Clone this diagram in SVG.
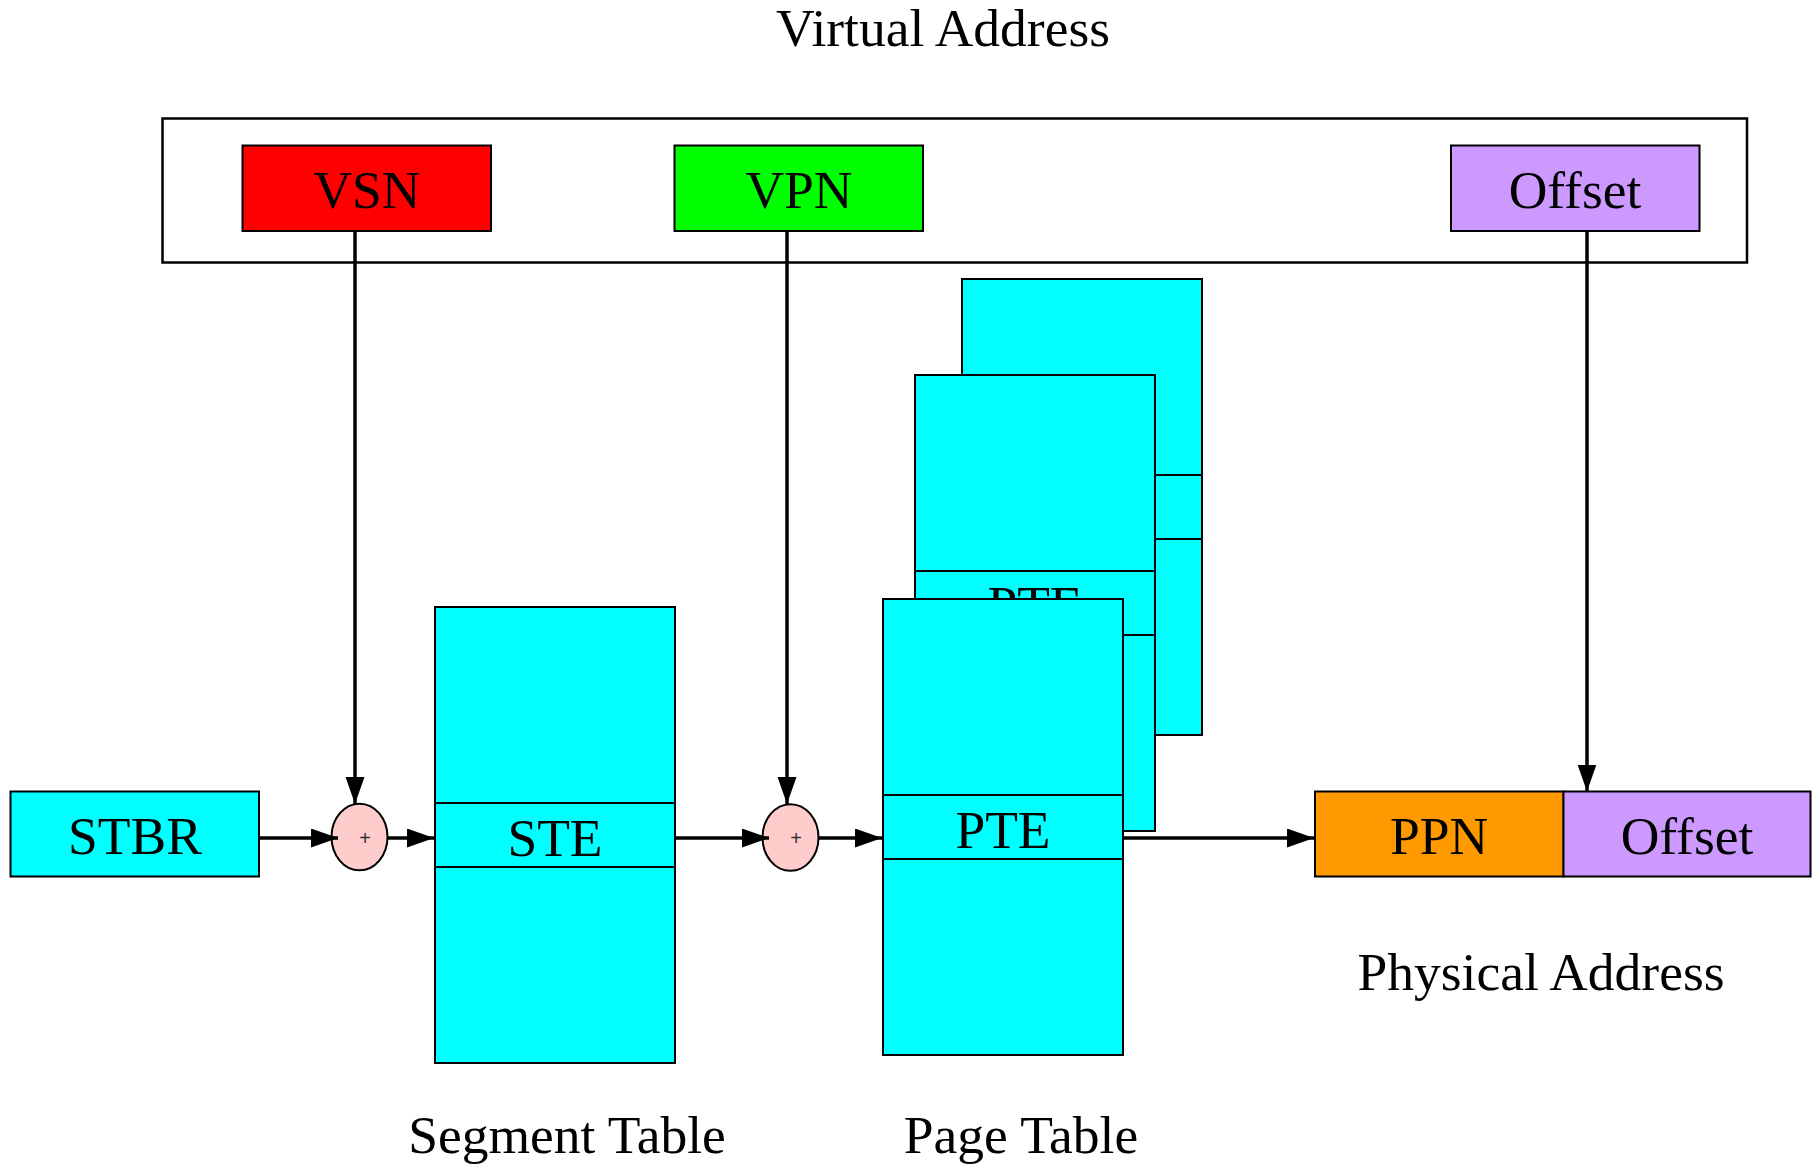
<svg xmlns="http://www.w3.org/2000/svg" width="1820" height="1166" viewBox="0 0 1820 1166">
  <defs>
    <style>
      .box { stroke: #000; stroke-width: 2; }
      .frame { fill: none; stroke: #000; stroke-width: 2.5; }
      .tbl { fill: #00ffff; stroke: #000; stroke-width: 2; }
      .sep { stroke: #000; stroke-width: 2; }
      .adder { fill: #ffcccc; stroke: #000; stroke-width: 2; }
      .lbl { font-family: "Liberation Serif", "Times New Roman", serif; font-size: 53.5px; fill: #000; text-anchor: middle; }
      .plus { font-family: "Liberation Sans", Arial, sans-serif; font-size: 20px; fill: #333; text-anchor: middle; }
      .wire { fill: none; stroke: #000; stroke-width: 3.5; marker-end: url(#head); }
    </style>
    <marker id="head" markerUnits="userSpaceOnUse" markerWidth="28" markerHeight="20" refX="27" refY="9.5" orient="auto">
      <path d="M0,0 L27,9.5 L0,19 Z" fill="#000"/>
    </marker>
  </defs>

  <rect width="1820" height="1166" fill="#fff"/>

  <!-- virtual address register -->
  <g id="virtual-address">
    <text class="lbl" x="943" y="46">Virtual Address</text>
    <rect class="frame" x="162.5" y="118.5" width="1584.5" height="144"/>
  </g>
  <g id="vsn">
    <rect class="box" x="242.5" y="145.5" width="248.5" height="85.5" fill="#ff0000"/>
    <text class="lbl" x="367" y="208">VSN</text>
  </g>
  <g id="vpn">
    <rect class="box" x="674.5" y="145.5" width="248.5" height="85.5" fill="#00ff00"/>
    <text class="lbl" x="799" y="208">VPN</text>
  </g>
  <g id="offset-in">
    <rect class="box" x="1451" y="145.5" width="248.5" height="85.5" fill="#cc99ff"/>
    <text class="lbl" x="1575" y="208">Offset</text>
  </g>

  <!-- base register -->
  <g id="stbr">
    <rect class="box" x="10.5" y="791.5" width="248.5" height="85" fill="#00ffff"/>
    <text class="lbl" x="135" y="854">STBR</text>
  </g>

  <!-- adders -->
  <g id="add-segment">
    <ellipse class="adder" cx="359.5" cy="837" rx="28" ry="33.3"/>
    <text class="plus" x="365" y="845">+</text>
  </g>
  <g id="add-page">
    <ellipse class="adder" cx="790.5" cy="837.5" rx="28" ry="33.3"/>
    <text class="plus" x="796" y="845">+</text>
  </g>

  <!-- segment table -->
  <g id="segment-table">
    <rect class="tbl" x="435" y="607" width="240" height="456"/>
    <line class="sep" x1="435" y1="803" x2="675" y2="803"/>
    <line class="sep" x1="435" y1="867" x2="675" y2="867"/>
    <text class="lbl" x="555" y="856">STE</text>
    <text class="lbl" x="567" y="1153">Segment Table</text>
  </g>

  <!-- stack of page tables, back to front -->
  <g id="page-table-3">
    <rect class="tbl" x="962" y="279" width="240" height="456"/>
    <line class="sep" x1="962" y1="475" x2="1202" y2="475"/>
    <line class="sep" x1="962" y1="539" x2="1202" y2="539"/>
  </g>
  <g id="page-table-2">
    <rect class="tbl" x="915" y="375" width="240" height="456"/>
    <line class="sep" x1="915" y1="571" x2="1155" y2="571"/>
    <line class="sep" x1="915" y1="635" x2="1155" y2="635"/>
    <text class="lbl" x="1035" y="623">PTE</text>
  </g>
  <g id="page-table-1">
    <rect class="tbl" x="883" y="599" width="240" height="456"/>
    <line class="sep" x1="883" y1="795" x2="1123" y2="795"/>
    <line class="sep" x1="883" y1="859" x2="1123" y2="859"/>
    <text class="lbl" x="1003" y="848">PTE</text>
    <text class="lbl" x="1021" y="1153">Page Table</text>
  </g>

  <!-- physical address register -->
  <g id="ppn">
    <rect class="box" x="1315" y="791.5" width="248.5" height="85" fill="#ff9900"/>
    <text class="lbl" x="1439" y="854">PPN</text>
  </g>
  <g id="offset-out">
    <rect class="box" x="1563.5" y="791.5" width="247" height="85" fill="#cc99ff"/>
    <text class="lbl" x="1687" y="854">Offset</text>
  </g>
  <g id="physical-address">
    <text class="lbl" x="1541" y="990">Physical Address</text>
  </g>

  <g id="connectors">
    <line class="wire" x1="355" y1="231" x2="355" y2="804"/>
    <line class="wire" x1="787" y1="231" x2="787" y2="804"/>
    <line class="wire" x1="1587" y1="231" x2="1587" y2="791.5"/>
    <line class="wire" x1="259" y1="838" x2="338" y2="838"/>
    <line class="wire" x1="387.5" y1="838" x2="434" y2="838"/>
    <line class="wire" x1="675" y1="838" x2="769" y2="838"/>
    <line class="wire" x1="818.5" y1="838" x2="882" y2="838"/>
    <line class="wire" x1="1123" y1="838" x2="1314" y2="838"/>
  </g>
</svg>
